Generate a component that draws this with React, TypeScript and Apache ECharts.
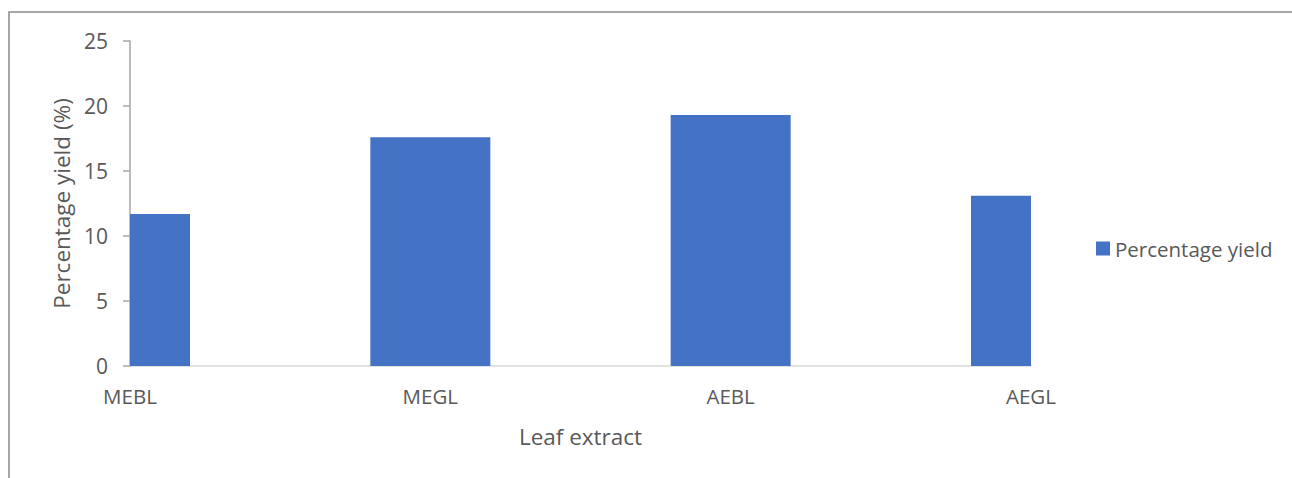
import React, { useEffect, useRef } from "react";
import * as echarts from "echarts";

const categories = ["MEBL", "MEGL", "AEBL", "AEGL"];
const yieldValues = [11.7, 17.6, 19.3, 13.1];
const seriesName = "Percentage yield";
const xAxisTitle = "Leaf extract";
const yAxisTitle = "Percentage yield (%)";

const FONT = "'Open Sans', 'Noto Sans', sans-serif";
const TEXT = "#595959";
const BAR_COLOR = "#4472c4";
const BAR_WIDTH = 120;

export default function App() {
  const ref = useRef<HTMLDivElement>(null);
  useEffect(() => {
    if (!ref.current) return;
    const chart = echarts.init(ref.current, undefined, { renderer: "svg" });
    chart.setOption({
      animation: false,
      backgroundColor: "#ffffff",
      textStyle: { fontFamily: FONT, color: TEXT },
      graphic: [
        {
          type: "rect",
          shape: { x: 9, y: 12, width: 1400, height: 600 },
          style: { fill: "none", stroke: "#8a8a8a", lineWidth: 1.5 },
          silent: true,
        },
      ],
      grid: { left: 130, right: 261, top: 41, bottom: 112, containLabel: false },
      legend: {
        left: 1096,
        top: 238,
        padding: 0,
        orient: "vertical",
        itemWidth: 14,
        itemHeight: 14,
        itemGap: 5,
        icon: "rect",
        textStyle: { fontFamily: FONT, fontSize: 20.5, color: TEXT },
        data: [{ name: seriesName, itemStyle: { color: BAR_COLOR } }],
      },
      xAxis: {
        type: "category",
        data: categories,
        boundaryGap: false,
        name: xAxisTitle,
        nameLocation: "middle",
        nameGap: 59,
        nameTextStyle: { fontFamily: FONT, fontSize: 22.5, color: TEXT },
        axisLine: { show: true, lineStyle: { color: "#d9d9d9", width: 1.5 } },
        axisTick: { show: false },
        axisLabel: { fontFamily: FONT, fontSize: 20.5, color: TEXT, margin: 19, interval: 0 },
        splitLine: { show: false },
      },
      yAxis: {
        type: "value",
        min: 0,
        max: 25,
        interval: 5,
        name: yAxisTitle,
        nameLocation: "middle",
        nameGap: 55,
        nameTextStyle: { fontFamily: FONT, fontSize: 22.5, color: TEXT },
        axisLine: { show: true, lineStyle: { color: "#a6a6a6", width: 1.5 } },
        axisTick: { show: true, length: 7, lineStyle: { color: "#a6a6a6", width: 1.5 } },
        axisLabel: { fontFamily: FONT, fontSize: 21, color: TEXT, margin: 22 },
        splitLine: { show: false },
      },
      series: [
        {
          name: seriesName,
          type: "custom",
          itemStyle: { color: BAR_COLOR },
          encode: { x: 0, y: 1 },
          data: yieldValues.map((v, i) => [i, v]),
          renderItem: (params: any, api: any) => {
            const top = api.coord([api.value(0), api.value(1)]);
            const base = api.coord([api.value(0), 0]);
            const cs = params.coordSys;
            const rect = echarts.graphic.clipRectByRect(
              {
                x: top[0] - BAR_WIDTH / 2,
                y: top[1],
                width: BAR_WIDTH,
                height: base[1] - top[1],
              },
              { x: cs.x, y: cs.y, width: cs.width, height: cs.height }
            );
            if (!rect) return null;
            return {
              type: "rect",
              shape: rect,
              style: { fill: BAR_COLOR },
            };
          },
        },
      ],
    });
    return () => chart.dispose();
  }, []);
  return (
    <div
      ref={ref}
      style={{ position: "fixed", left: 0, top: 0, width: 1292, height: 478 }}
    />
  );
}
